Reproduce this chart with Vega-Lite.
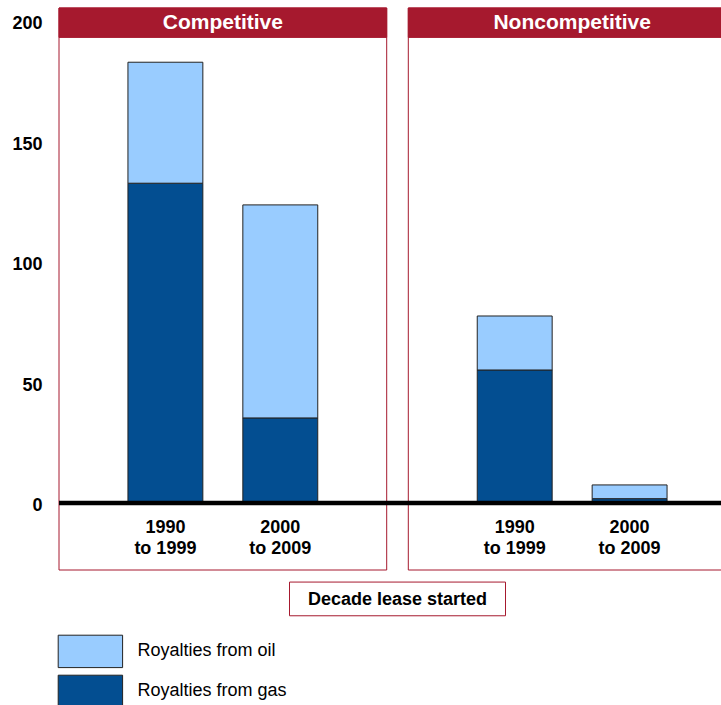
{
  "$schema": "https://vega.github.io/schema/vega-lite/v6.json",
  "width": 677,
  "height": 562,
  "autosize": {"type": "none"},
  "padding": {"left": 59, "top": 8, "right": -15, "bottom": 135},
  "config": {
    "view": {"stroke": null},
    "font": "Liberation Sans",
    "text": {"font": "Liberation Sans"}
  },
  "datasets": {
    "panels": [
      {"type": "Competitive"},
      {"type": "Noncompetitive"}
    ],
    "bars": [
      {"type": "Competitive", "decade": "1990\nto 1999", "series": "Royalties from gas", "value": 132.7},
      {"type": "Competitive", "decade": "1990\nto 1999", "series": "Royalties from oil", "value": 50.2},
      {"type": "Competitive", "decade": "2000\nto 2009", "series": "Royalties from gas", "value": 35.3},
      {"type": "Competitive", "decade": "2000\nto 2009", "series": "Royalties from oil", "value": 88.4},
      {"type": "Noncompetitive", "decade": "1990\nto 1999", "series": "Royalties from gas", "value": 55.2},
      {"type": "Noncompetitive", "decade": "1990\nto 1999", "series": "Royalties from oil", "value": 22.4},
      {"type": "Noncompetitive", "decade": "2000\nto 2009", "series": "Royalties from gas", "value": 1.8},
      {"type": "Noncompetitive", "decade": "2000\nto 2009", "series": "Royalties from oil", "value": 5.7}
    ],
    "single": [{"k": 1}]
  },
  "layer": [
    {
      "data": {"name": "panels"},
      "mark": {"type": "rect", "fill": null, "fillOpacity": 0, "stroke": "#A6192E", "strokeWidth": 1},
      "encoding": {
        "x": {"field": "type", "type": "nominal", "sort": ["Competitive", "Noncompetitive"], "scale": {"paddingInner": 0.0619, "paddingOuter": 0}, "axis": null},
        "y": {"datum": 205.4, "type": "quantitative", "scale": {"domain": [-27.8, 205.4], "nice": false, "zero": false},
          "axis": {"values": [0, 50, 100, 150, 200], "labelFont": "Liberation Sans", "labelFontSize": 18, "labelFontWeight": "bold", "labelColor": "black", "ticks": false, "tickSize": 0, "domain": false, "grid": false, "labelPadding": 17, "labelOffset": 2.5, "title": null}},
        "y2": {"datum": -27.8}
      }
    },
    {
      "data": {"name": "panels"},
      "mark": {"type": "rect", "fill": "#A6192E", "stroke": "#A6192E", "strokeWidth": 1},
      "encoding": {
        "x": {"field": "type", "type": "nominal", "sort": ["Competitive", "Noncompetitive"], "axis": null},
        "y": {"datum": 205.4, "type": "quantitative"},
        "y2": {"datum": 193.2}
      }
    },
    {
      "data": {"name": "panels"},
      "mark": {"type": "text", "color": "white", "fontSize": 21, "fontWeight": "bold", "baseline": "middle", "align": "center"},
      "encoding": {
        "x": {"field": "type", "type": "nominal", "sort": ["Competitive", "Noncompetitive"], "axis": null},
        "y": {"datum": 199.0, "type": "quantitative"},
        "text": {"field": "type"}
      }
    },
    {
      "data": {"name": "bars"},
      "mark": {"type": "bar", "stroke": "#222222", "strokeWidth": 1},
      "encoding": {
        "x": {"field": "type", "type": "nominal", "sort": ["Competitive", "Noncompetitive"], "axis": null},
        "xOffset": {"field": "decade", "type": "nominal", "scale": {"paddingInner": 0.348, "paddingOuter": 0.6}},
        "y": {"field": "value", "type": "quantitative", "stack": "zero"},
        "color": {"field": "series", "type": "nominal",
          "scale": {"domain": ["Royalties from oil", "Royalties from gas"], "range": ["#99CCFF", "#034E91"]},
          "legend": {"orient": "none", "legendX": 14.4, "legendY": 626.4, "title": null, "direction": "vertical",
            "symbolType": "M-2,-1.006H2V1.006H-2Z", "symbolSize": 1037, "symbolStrokeColor": "#222222", "symbolStrokeWidth": 1, "symbolOpacity": 1,
            "labelFont": "Liberation Sans", "labelFontSize": 18, "labelColor": "black", "labelOffset": 30, "rowPadding": 2, "padding": 0}},
        "order": {"field": "series", "sort": "ascending"}
      }
    },
    {
      "data": {"name": "single"},
      "mark": {"type": "rule", "strokeWidth": 4.5, "color": "black"},
      "encoding": {"y": {"datum": 0, "type": "quantitative"}}
    },
    {
      "data": {"name": "bars"},
      "transform": [{"aggregate": [{"op": "count", "as": "n"}], "groupby": ["type", "decade"]}],
      "mark": {"type": "text", "color": "black", "fontSize": 18, "fontWeight": "bold", "baseline": "top", "align": "center", "lineBreak": "\n", "lineHeight": 21},
      "encoding": {
        "x": {"field": "type", "type": "nominal", "sort": ["Competitive", "Noncompetitive"], "axis": null},
        "xOffset": {"field": "decade", "type": "nominal"},
        "y": {"datum": -6.8, "type": "quantitative"},
        "text": {"field": "decade"}
      }
    },
    {
      "data": {"name": "single"},
      "mark": {"type": "point", "shape": "M-1,-0.156H1V0.156H-1Z", "size": 46656, "filled": false, "stroke": "#A6192E", "strokeWidth": 1, "opacity": 1},
      "encoding": {"y": {"datum": -39.8, "type": "quantitative"}}
    },
    {
      "data": {"name": "single"},
      "mark": {"type": "text", "text": "Decade lease started", "color": "black", "fontSize": 18, "fontWeight": "bold", "baseline": "middle", "align": "center"},
      "encoding": {"y": {"datum": -40.2, "type": "quantitative"}}
    }
  ]
}
